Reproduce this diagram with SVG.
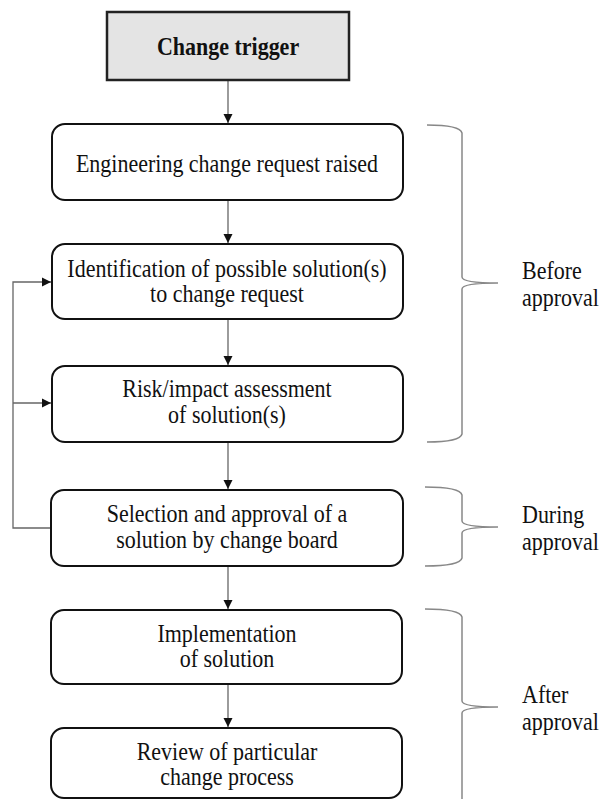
<svg xmlns="http://www.w3.org/2000/svg" width="606" height="799" viewBox="0 0 606 799">
<defs>
<style>
.box{fill:#fff;stroke:#111;stroke-width:2}
.trig{fill:#e4e4e4;stroke:#222;stroke-width:2.5}
.t{font-family:"Liberation Serif","Times New Roman",serif;font-size:25px;fill:#111;text-anchor:middle}
.tb{font-family:"Liberation Serif","Times New Roman",serif;font-size:25px;font-weight:bold;fill:#111;text-anchor:middle}
.lab{font-family:"Liberation Serif","Times New Roman",serif;font-size:25px;fill:#111;text-anchor:start}
.con{fill:none;stroke:#666;stroke-width:1.3}
.brace{fill:none;stroke:#888;stroke-width:1.5}
</style>
<marker id="ah" markerWidth="10" markerHeight="10" refX="9" refY="5" orient="auto" markerUnits="userSpaceOnUse">
<path d="M0,0.5 L9,5 L0,9.5 Z" fill="#111"/>
</marker>
</defs>
<rect width="606" height="799" fill="#fff"/>

<g id="connectors">
<line class="con" x1="228" y1="81" x2="228" y2="123" marker-end="url(#ah)"/>
<line class="con" x1="228" y1="201" x2="228" y2="243" marker-end="url(#ah)"/>
<line class="con" x1="228" y1="320" x2="228" y2="365" marker-end="url(#ah)"/>
<line class="con" x1="228" y1="443" x2="228" y2="489" marker-end="url(#ah)"/>
<line class="con" x1="228" y1="567" x2="228" y2="609" marker-end="url(#ah)"/>
<line class="con" x1="228" y1="685" x2="228" y2="727" marker-end="url(#ah)"/>
<polyline class="con" points="51,528 13,528 13,282 51,282" marker-end="url(#ah)"/>
<line class="con" x1="13" y1="403" x2="51" y2="403" marker-end="url(#ah)"/>
</g>

<g id="trigger">
<rect class="trig" x="107" y="12" width="242" height="68"/>
<text class="tb" transform="translate(228 55) scale(0.88 1)">Change trigger</text>
</g>

<g id="ecr">
<rect class="box" x="52" y="124" width="351" height="76" rx="13"/>
<text class="t" transform="translate(227 172) scale(0.88 1)">Engineering change request raised</text>
</g>

<g id="identification">
<rect class="box" x="52" y="244" width="351" height="75" rx="13"/>
<text class="t" transform="translate(227 277) scale(0.88 1)">Identification of possible solution(s)</text>
<text class="t" transform="translate(227 302) scale(0.88 1)">to change request</text>
</g>

<g id="risk">
<rect class="box" x="52" y="366" width="351" height="76" rx="13"/>
<text class="t" transform="translate(227 397) scale(0.88 1)">Risk/impact assessment</text>
<text class="t" transform="translate(227 423) scale(0.88 1)">of solution(s)</text>
</g>

<g id="selection">
<rect class="box" x="51" y="490" width="352" height="76" rx="13"/>
<text class="t" transform="translate(227 522) scale(0.88 1)">Selection and approval of a</text>
<text class="t" transform="translate(227 548) scale(0.88 1)">solution by change board</text>
</g>

<g id="implementation">
<rect class="box" x="51" y="610" width="351" height="74" rx="13"/>
<text class="t" transform="translate(227 642) scale(0.88 1)">Implementation</text>
<text class="t" transform="translate(227 667) scale(0.88 1)">of solution</text>
</g>

<g id="review">
<rect class="box" x="51" y="728" width="351" height="70" rx="13"/>
<text class="t" transform="translate(227 760) scale(0.88 1)">Review of particular</text>
<text class="t" transform="translate(227 785) scale(0.88 1)">change process</text>
</g>

<g id="before">
<path class="brace" d="M427,125 Q460,125 462,133 L462,277 Q462,283 498,283 Q462,283 462,289 L462,434 Q460,442 427,442"/>
<text class="lab" transform="translate(522 279) scale(0.88 1)">Before</text>
<text class="lab" transform="translate(522 306) scale(0.88 1)">approval</text>
</g>

<g id="during">
<path class="brace" d="M425,487 Q460,487 462,495 L462,521 Q462,527 498,527 Q462,527 462,533 L462,558 Q460,566 425,566"/>
<text class="lab" transform="translate(522 523) scale(0.88 1)">During</text>
<text class="lab" transform="translate(522 550) scale(0.88 1)">approval</text>
</g>

<g id="after">
<path class="brace" d="M425,609 Q460,609 462,617 L462,701 Q462,707 498,707 Q462,707 462,713 L462,805"/>
<text class="lab" transform="translate(522 703) scale(0.88 1)">After</text>
<text class="lab" transform="translate(522 730) scale(0.88 1)">approval</text>
</g>
</svg>
